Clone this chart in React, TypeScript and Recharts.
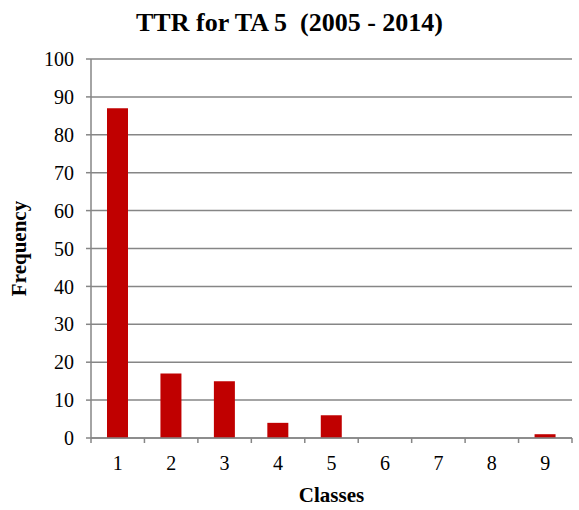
import { BarChart, Bar, XAxis, YAxis, CartesianGrid } from "recharts";

const classes = ["1", "2", "3", "4", "5", "6", "7", "8", "9"];
const frequency = [87, 17, 15, 4, 6, 0, 0, 0, 1];
const yTicks = [0, 10, 20, 30, 40, 50, 60, 70, 80, 90, 100];
const boundaryTicks = [0, 1, 2, 3, 4, 5, 6, 7, 8, 9];

const data = classes.map((c, i) => ({ cls: c, freq: frequency[i], pos: i + 0.5 }));

const FONT = '"Liberation Serif", "Times New Roman", serif';
const GRID = "#868686";

export default function App() {
  return (
    <div
      style={{
        position: "absolute",
        left: 0,
        top: 0,
        width: 579,
        height: 510,
        background: "#fff",
        fontFamily: FONT,
      }}
    >
      <style>{`svg text, svg tspan { font-family: ${FONT} !important; }`}</style>
      <div
        style={{
          position: "absolute",
          top: 8,
          left: 0,
          width: 579,
          textAlign: "center",
          fontWeight: "bold",
          fontSize: 26,
          lineHeight: "30px",
          whiteSpace: "pre",
          color: "#000",
        }}
      >
        {"TTR for TA 5  (2005 - 2014)"}
      </div>
      <BarChart
        width={579}
        height={510}
        data={data}
        margin={{ top: 59, right: 7, bottom: 0, left: 0 }}
        style={{ fontFamily: FONT }}
      >
        <CartesianGrid vertical={false} stroke={GRID} strokeWidth={1.5} />
        <XAxis
          xAxisId="a_edges"
          type="number"
          dataKey="pos"
          domain={[0, 9]}
          ticks={boundaryTicks}
          interval={0}
          height={1}
          tickFormatter={() => ""}
          tickSize={5}
          axisLine={{ stroke: GRID, strokeWidth: 1.5 }}
          tickLine={{ stroke: GRID, strokeWidth: 1.5 }}
          allowDataOverflow
        />
        <XAxis
          xAxisId="b_cat"
          dataKey="cls"
          height={71}
          axisLine={false}
          tickLine={false}
          tickMargin={11}
          tick={{ fill: "#000", fontSize: 20, fontFamily: FONT }}
          label={{
            value: "Classes",
            position: "insideBottom",
            offset: 8,
            fill: "#000",
            fontSize: 21,
            fontWeight: "bold",
            fontFamily: FONT,
          }}
        />
        <YAxis
          domain={[0, 100]}
          ticks={yTicks}
          width={91}
          interval={0}
          tickSize={5}
          tickMargin={12}
          axisLine={{ stroke: GRID, strokeWidth: 1.5 }}
          tickLine={{ stroke: GRID, strokeWidth: 1.5 }}
          tick={{ fill: "#000", fontSize: 20, fontFamily: FONT }}
          label={{
            value: "Frequency",
            angle: -90,
            position: "insideLeft",
            offset: 19,
            style: { textAnchor: "middle" },
            fill: "#000",
            fontSize: 21,
            fontWeight: "bold",
            fontFamily: FONT,
          }}
        />
        <Bar
          xAxisId="b_cat"
          dataKey="freq"
          fill="#C00000"
          barSize={21}
          isAnimationActive={false}
        />
      </BarChart>
    </div>
  );
}
